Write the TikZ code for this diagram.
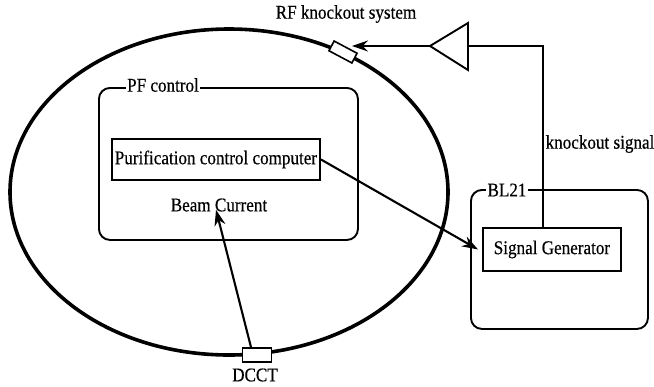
\documentclass[tikz,border=0pt]{standalone}
\usepackage{fontspec}
\setmainfont[FakeStretch=0.88,FakeBold=0.4]{Liberation Serif}
\usetikzlibrary{arrows.meta,calc}
\begin{document}
\begin{tikzpicture}[x=1bp,y=-1bp,
  font=\fontsize{19.5}{22}\selectfont,
  boxline/.style={line width=1.9bp},
  group/.style={draw,boxline,rounded corners=11bp,anchor=north west,inner sep=0pt},
  unit/.style={draw,boxline,anchor=north west,inner sep=0pt,align=center},
  tag/.style={fill=white,inner sep=1.5bp},
  sensor/.style={draw,line width=1.6bp,fill=white,inner sep=0pt},
  arr/.style={line width=2.1bp,-{Stealth[length=16bp,width=11bp]}},
  wire/.style={line width=1.9bp}]
\useasboundingbox (0,0) rectangle (654,386);
% storage ring
\draw[line width=3.6bp] (229,192) ellipse [x radius=219, y radius=163];
% PF control group
\node[group,minimum width=259bp,minimum height=152bp] (pf) at (98,87) {};
\node[tag] (pflabel) at (163,85) {PF control};
\node[unit,minimum width=208bp,minimum height=41bp] (pcc) at (111,138) {};
\node (pcctext) at (pcc.center) {Purification control computer};
\node[inner sep=2bp] (bc) at (219,205) {Beam Current};
% BL21 group
\node[group,minimum width=177bp,minimum height=139bp] (bl) at (470,189) {};
\node[tag] (bllabel) at (507,190) {BL21};
\node[unit,minimum width=138bp,minimum height=43bp] (sg) at (482,227) {};
\node (sgtext) at (sg.center) {Signal Generator};
% sensors on ring
\node[sensor,minimum width=26bp,minimum height=11bp,rotate=-28] (kick) at (343,52) {};
\node[sensor,minimum width=29bp,minimum height=14bp] (dcct) at (257,355) {};
% amplifier triangle
\coordinate (ampIn) at (468,46);
\coordinate (ampOut) at (430,46);
\coordinate (ampTop) at (468,23);
\coordinate (ampBot) at (468,70);
\draw[wire] (ampTop) -- (ampOut) -- (ampBot) -- cycle;
\coordinate (kickTip) at (352,46);
% labels
\node (rf) at (346,14) {RF knockout system};
\node (ks) at (600,144) {knockout signal};
\node (dl) at (255,375) {DCCT};
% connectors
\draw[wire] ([xshift=-9bp]sg.north) |- (ampIn);
\draw[arr] (ampOut) -- (kickTip);
\draw[arr] (pcc.east) -- ([xshift=-4bp]sg.west);
\draw[arr] ([xshift=-6bp]dcct.north) -- ([xshift=-3bp,yshift=4bp]bc.south);
\end{tikzpicture}
\end{document}
